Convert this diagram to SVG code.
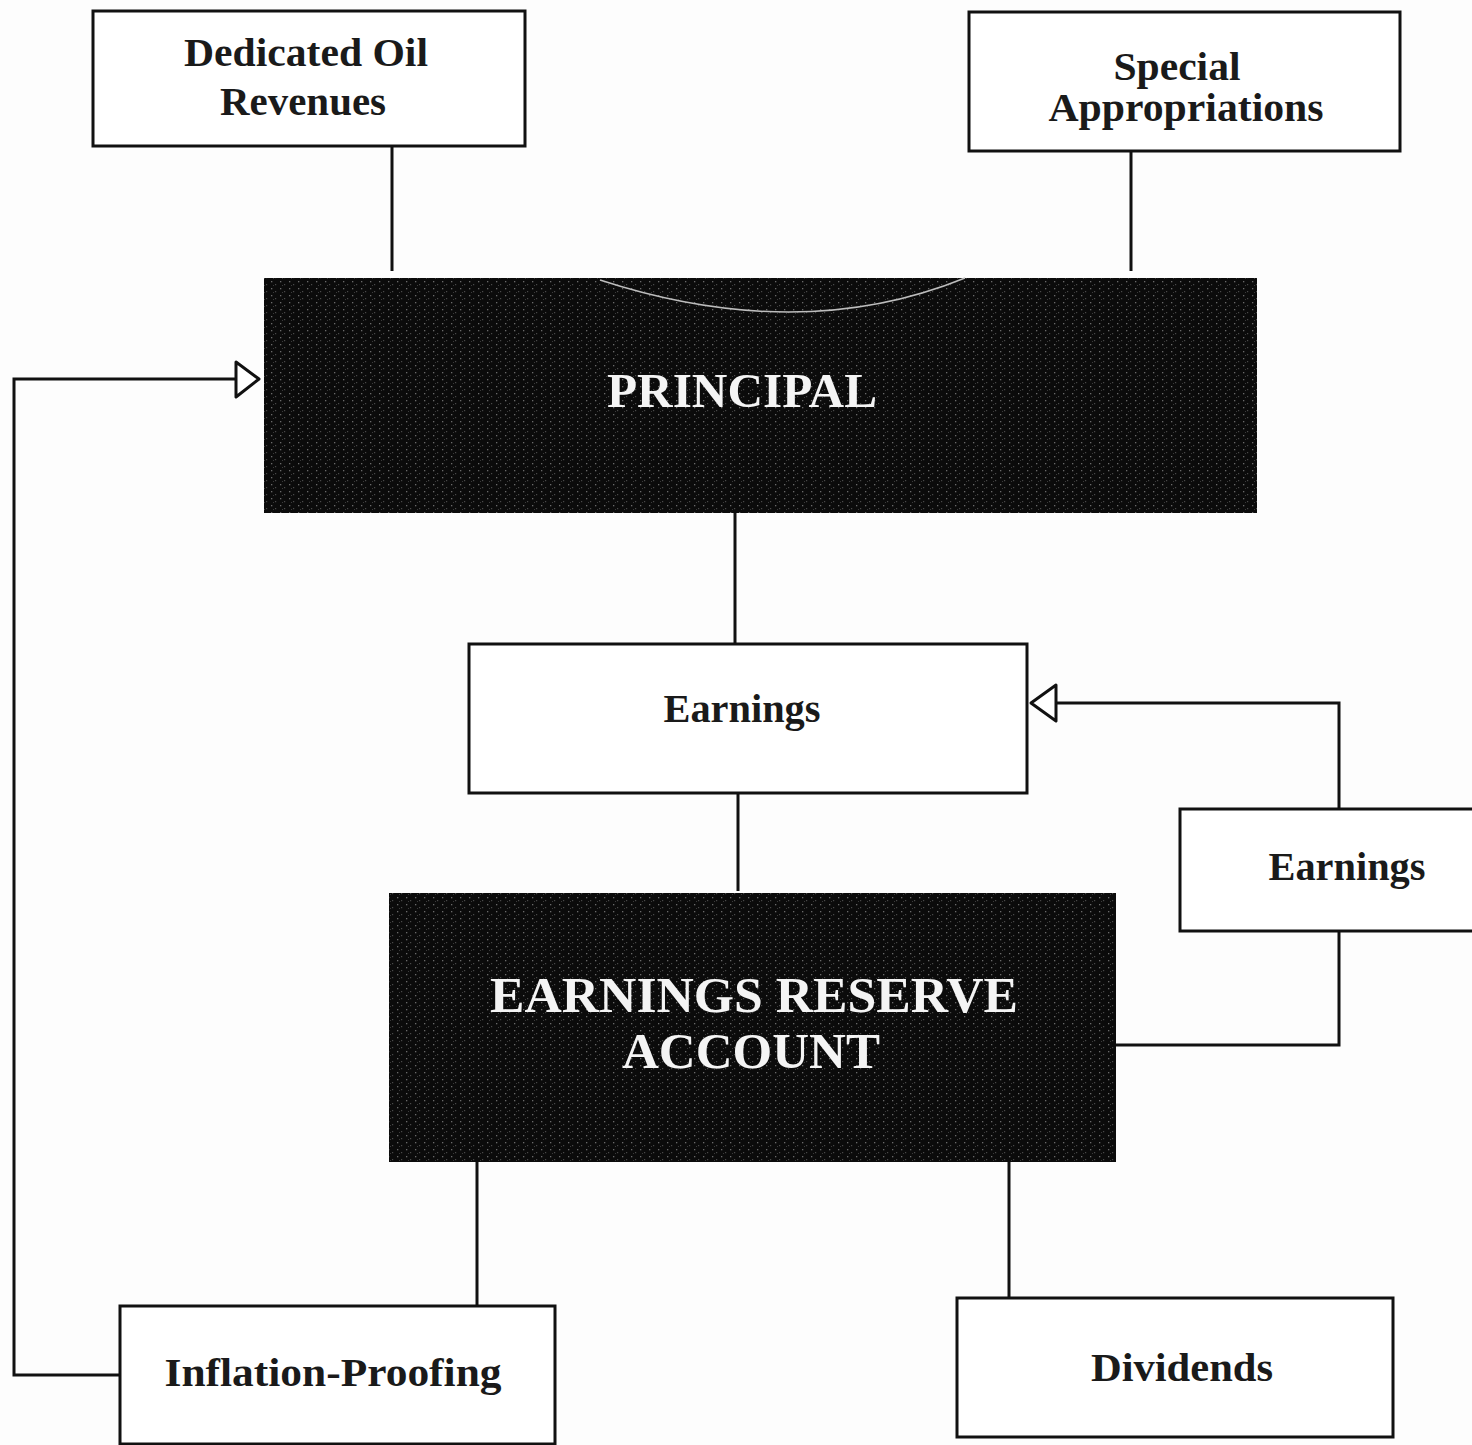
<svg xmlns="http://www.w3.org/2000/svg" width="1472" height="1445" viewBox="0 0 1472 1445">
<style>
.box{fill:#ffffff;stroke:#111;stroke-width:3}
.dark{fill:#0b0b0b}
.tex{fill:url(#speckle)}
.lbl{font-family:"Liberation Serif","Times New Roman",serif;font-weight:bold;font-size:40px;fill:#1a1a1a;text-anchor:middle}
.big{font-family:"Liberation Serif","Times New Roman",serif;font-weight:bold;fill:#f4f4f4;text-anchor:middle}
.con{fill:none;stroke:#111;stroke-width:3}
.head{fill:#ffffff;stroke:#111;stroke-width:3;stroke-linejoin:round}
</style>
<defs>
<pattern id="speckle" width="9" height="7" patternUnits="userSpaceOnUse">
<rect x="1" y="1" width="1.3" height="1.3" fill="#6a6a6a"/>
<rect x="5" y="4" width="1.2" height="1.2" fill="#4a4a4a"/>
<rect x="3" y="5" width="1" height="1" fill="#3a3a3a"/>
</pattern>
</defs>
<rect width="1472" height="1445" fill="#fdfdfd"/>

<g id="connectors">
<line class="con" x1="392" y1="146" x2="392" y2="271"/>
<line class="con" x1="1131" y1="151" x2="1131" y2="271"/>
<line class="con" x1="735" y1="513" x2="735" y2="643"/>
<line class="con" x1="738" y1="793" x2="738" y2="891"/>
<polyline class="con" points="1339,809 1339,703 1056,703"/>
<polygon class="head" points="1056,685 1031,703 1056,721"/>
<polyline class="con" points="1116,1045 1339,1045 1339,931"/>
<line class="con" x1="477" y1="1162" x2="477" y2="1305"/>
<line class="con" x1="1009" y1="1162" x2="1009" y2="1298"/>
<polyline class="con" points="120,1375 14,1375 14,379 236,379"/>
<polygon class="head" points="236,362 259,379 236,397"/>
</g>

<g id="dedicated-oil-revenues">
<rect class="box" x="93" y="11" width="432" height="135"/>
<text class="lbl" x="306" y="66" textLength="244" lengthAdjust="spacingAndGlyphs">Dedicated Oil</text>
<text class="lbl" x="303" y="115" textLength="166" lengthAdjust="spacingAndGlyphs">Revenues</text>
</g>

<g id="special-appropriations">
<rect class="box" x="969" y="12" width="431" height="139"/>
<text class="lbl" x="1177" y="80" textLength="127" lengthAdjust="spacingAndGlyphs">Special</text>
<text class="lbl" x="1186" y="121" textLength="275" lengthAdjust="spacingAndGlyphs">Appropriations</text>
</g>

<g id="principal">
<rect class="dark" x="264" y="278" width="993" height="235"/>
<rect class="tex" x="264" y="278" width="993" height="235"/>
<path d="M600,280 Q800,345 965,278" fill="none" stroke="#bdbdbd" stroke-width="1.5"/>
<text class="big" x="742" y="407" font-size="48" textLength="270" lengthAdjust="spacingAndGlyphs">PRINCIPAL</text>
</g>

<g id="earnings">
<rect class="box" x="469" y="644" width="558" height="149"/>
<text class="lbl" x="742" y="722" textLength="157" lengthAdjust="spacingAndGlyphs">Earnings</text>
</g>

<g id="earnings-reserve-account">
<rect class="dark" x="389" y="893" width="727" height="269"/>
<rect class="tex" x="389" y="893" width="727" height="269"/>
<text class="big" x="754" y="1012" font-size="50" textLength="528" lengthAdjust="spacingAndGlyphs">EARNINGS RESERVE</text>
<text class="big" x="751" y="1068" font-size="50" textLength="258" lengthAdjust="spacingAndGlyphs">ACCOUNT</text>
</g>

<g id="earnings-right">
<rect class="box" x="1180" y="809" width="300" height="122"/>
<text class="lbl" x="1347" y="880" textLength="157" lengthAdjust="spacingAndGlyphs">Earnings</text>
</g>

<g id="inflation-proofing">
<rect class="box" x="120" y="1306" width="435" height="138"/>
<text class="lbl" x="333" y="1386" textLength="337" lengthAdjust="spacingAndGlyphs">Inflation-Proofing</text>
</g>

<g id="dividends">
<rect class="box" x="957" y="1298" width="436" height="139"/>
<text class="lbl" x="1182" y="1381" textLength="182" lengthAdjust="spacingAndGlyphs">Dividends</text>
</g>
</svg>
